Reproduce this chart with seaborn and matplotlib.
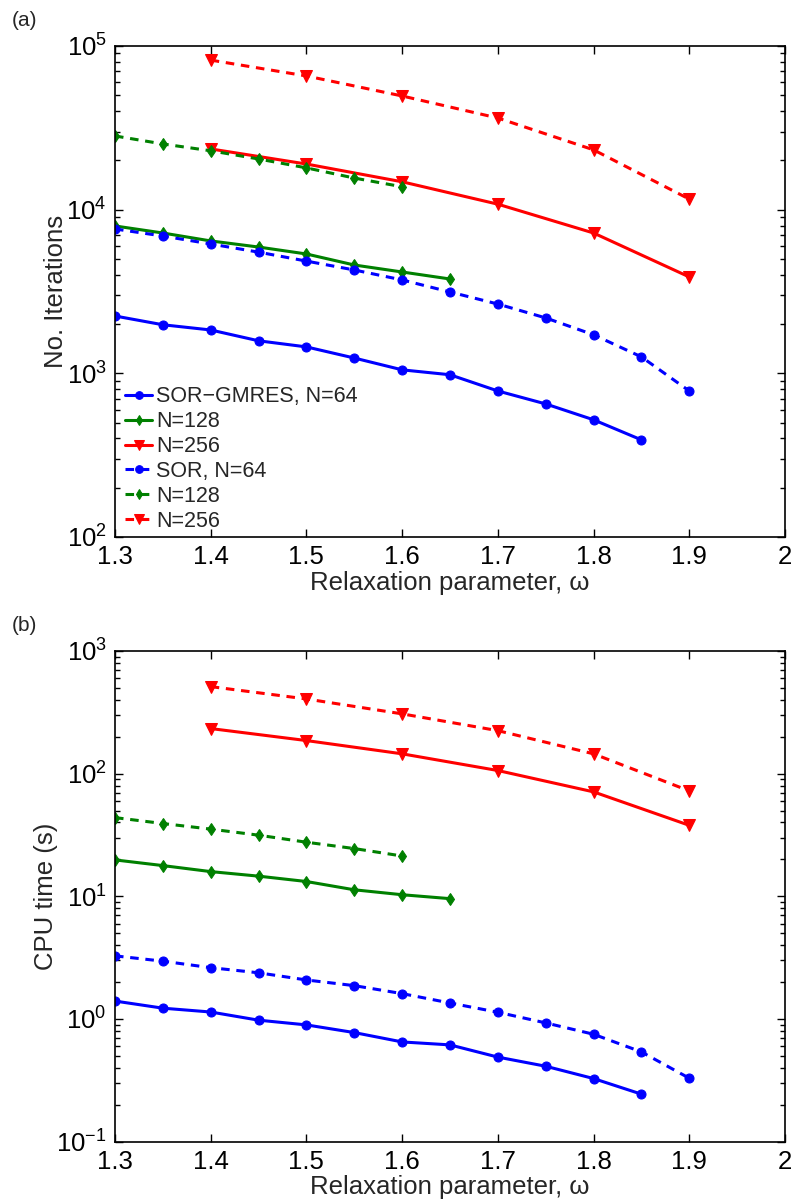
import numpy as np
import pandas as pd
import matplotlib
matplotlib.use("Agg")
import matplotlib.pyplot as plt
import matplotlib.ticker as mticker
import seaborn as sns

# ---------------- data ----------------
omega_64 = [1.3, 1.35, 1.4, 1.45, 1.5, 1.55, 1.6, 1.65, 1.7, 1.75, 1.8, 1.85, 1.9]
omega_128 = [1.3, 1.35, 1.4, 1.45, 1.5, 1.55, 1.6, 1.65]
omega_256 = [1.4, 1.5, 1.6, 1.7, 1.8, 1.9]

# (a) iterations
it_gmres_64 = [2240, 1980, 1840, 1580, 1450, 1240, 1050, 980, 780, 650, 520, 392]
it_gmres_128 = [7950, 7200, 6440, 5910, 5360, 4590, 4160, 3770]
it_gmres_256 = [23500, 19000, 14800, 10800, 7200, 3880]
it_sor_64 = [7620, 6900, 6170, 5500, 4850, 4280, 3720, 3140, 2650, 2180, 1720, 1260, 780]
it_sor_128 = [28200, 25200, 22900, 20400, 18000, 15600, 13800]
it_sor_256 = [82000, 65600, 49500, 36300, 23200, 11600]

# (b) CPU time
t_gmres_64 = [1.40, 1.225, 1.14, 0.978, 0.895, 0.775, 0.650, 0.615, 0.489, 0.412, 0.327, 0.244]
t_gmres_128 = [19.8, 17.8, 15.9, 14.6, 13.2, 11.3, 10.3, 9.57]
t_gmres_256 = [233, 186, 145, 106, 71, 37.9]
t_sor_64 = [3.27, 2.96, 2.62, 2.38, 2.08, 1.87, 1.61, 1.35, 1.135, 0.929, 0.751, 0.539, 0.329]
t_sor_128 = [43.8, 39.2, 35.3, 31.5, 27.6, 24.5, 21.3]
t_sor_256 = [512, 406, 307, 224, 145, 72.3]

labels = ["SOR\u2212GMRES, N=64", "N=128", "N=256", "SOR, N=64", "N=128", "N=256"]
x_ticks = [1.3, 1.4, 1.5, 1.6, 1.7, 1.8, 1.9, 2.0]

# ---------------- style ----------------
sns.set_style("ticks")
plt.rcParams["font.family"] = ["Liberation Sans", "DejaVu Sans"]
plt.rcParams["mathtext.fontset"] = "custom"
plt.rcParams["mathtext.rm"] = "Liberation Sans"
plt.rcParams["mathtext.it"] = "Liberation Sans:italic"
plt.rcParams["mathtext.bf"] = "Liberation Sans:bold"

BLUE, GREEN, RED = "#0000ff", "#008000", "#ff0000"

fig = plt.figure(figsize=(7.98, 12.01), dpi=100)
ax1 = fig.add_axes([0.1441, 0.5529, 0.8396, 0.4088])
ax2 = fig.add_axes([0.1441, 0.0494, 0.8396, 0.4086])


def draw(ax, xs, ys, color, marker, ls, label, ms):
    df = pd.DataFrame({"omega": xs[:len(ys)], "val": ys})
    sns.lineplot(data=df, x="omega", y="val", ax=ax, color=color, marker=marker,
                 linestyle=ls, linewidth=2.2, markersize=ms, markeredgecolor=color,
                 markerfacecolor=color, label=label, legend=False)


def panel(ax, series, ylim, ylabel):
    dash = (0, (2.8, 2.2))
    specs = [(omega_64, BLUE, "o", "-", 6.5), (omega_128, GREEN, "d", "-", 6.5),
             (omega_256, RED, "v", "-", 8.5),
             (omega_64, BLUE, "o", dash, 6.5), (omega_128, GREEN, "d", dash, 6.5),
             (omega_256, RED, "v", dash, 8.5)]
    for (xs, c, m, ls, ms), ys, lab in zip(specs, series, labels):
        draw(ax, xs, ys, c, m, ls, lab, ms)
    ax.set_yscale("log")
    ax.set_xlim(1.3, 2.0)
    ax.set_ylim(*ylim)
    ax.set_xticks(x_ticks)
    ax.xaxis.set_major_formatter(mticker.FuncFormatter(lambda v, p: f"{v:g}"))
    ax.yaxis.set_major_locator(mticker.LogLocator(base=10, numticks=20))
    ax.yaxis.set_minor_locator(mticker.LogLocator(base=10, subs=np.arange(2, 10), numticks=20))
    ax.yaxis.set_minor_formatter(mticker.NullFormatter())
    ax.tick_params(which="both", direction="in", top=True, right=True, colors="black",
                   labelsize=18.5, width=1.0)
    ax.tick_params(which="major", length=6, pad=6)
    ax.tick_params(which="minor", length=3.5)
    for s in ax.spines.values():
        s.set_linewidth(1.2)
        s.set_color("black")
    ax.set_xlabel("Relaxation parameter, \u03c9", fontsize=18.5, labelpad=1)
    ax.set_ylabel(ylabel, fontsize=18.5, labelpad=-1)


panel(ax1, [it_gmres_64, it_gmres_128, it_gmres_256, it_sor_64, it_sor_128, it_sor_256],
      (1e2, 1e5), "No. Iterations")
panel(ax2, [t_gmres_64, t_gmres_128, t_gmres_256, t_sor_64, t_sor_128, t_sor_256],
      (1e-1, 1e3), "CPU time (s)")

ax1.legend(loc="upper left", bbox_to_anchor=(-0.004, 0.333), frameon=False, fontsize=15.5,
           handlelength=1.25, handletextpad=0.2, labelspacing=0.18, borderaxespad=0.2,
           markerscale=0.85)

fig.text(0.015, 0.983, "(a)", fontsize=15, va="center", ha="left")
fig.text(0.015, 0.479, "(b)", fontsize=15, va="center", ha="left")

fig.savefig("out.png", dpi=100)
